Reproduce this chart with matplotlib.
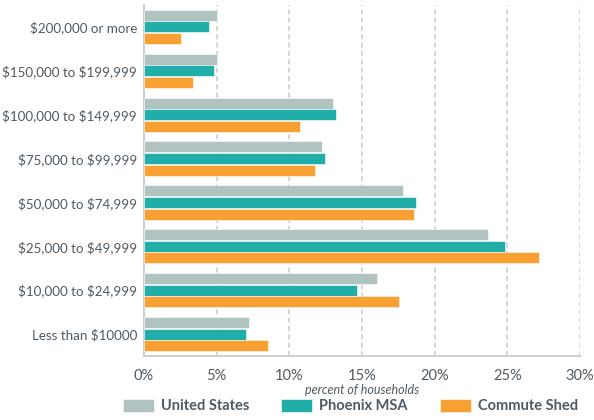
import numpy as np
import matplotlib.pyplot as plt
from matplotlib import font_manager

# Income brackets (top to bottom as shown)
categories = ['$200,000 or more', '$150,000 to $199,999', '$100,000 to $149,999',
              '$75,000 to $99,999', '$50,000 to $74,999', '$25,000 to $49,999',
              '$10,000 to $24,999', 'Less than $10000']

# percent of households
united_states = [5.0, 5.0, 13.0, 12.25, 17.8, 23.7, 16.0, 7.2]
phoenix_msa = [4.5, 4.8, 13.2, 12.45, 18.7, 24.85, 14.65, 7.0]
commute_shed = [2.55, 3.4, 10.7, 11.8, 18.6, 27.2, 17.55, 8.5]

series_names = ['United States', 'Phoenix MSA', 'Commute Shed']
colors = ['#B1C3C0', '#22AEA8', '#F8A031']
text_color = '#4F5A63'

plt.rcParams['font.family'] = ['Lato', 'DejaVu Sans']
plt.rcParams['text.parse_math'] = False

# narrow face for the long bracket labels, if there is one
names = {f.name for f in font_manager.fontManager.ttflist}
label_font, label_size = ('Liberation Sans Narrow', 11.5) if 'Liberation Sans Narrow' in names else ('Lato', 9.6)

fig = plt.figure(figsize=(5.94, 4.20), dpi=100)
ax = fig.add_axes([144 / 594, 64 / 420, 436 / 594, 351 / 420])

y = np.arange(len(categories))
h = 0.265
for i, (vals, name, c) in enumerate(zip([united_states, phoenix_msa, commute_shed],
                                        series_names, colors)):
    ax.barh(y + (i - 1) * h, vals, height=h * 0.95, color=c, label=name,
            edgecolor='white', linewidth=0.4, zorder=3)

ax.set_ylim(len(categories) - 0.5, -0.5)
ax.set_yticks(y)
ax.set_yticklabels(categories, fontsize=label_size, family=label_font, color=text_color)
ax.set_xlim(0, 30)
ax.set_xticks(np.arange(0, 31, 5))
ax.set_xticklabels([f'{v}%' for v in range(0, 31, 5)], fontsize=10.5, color=text_color)
ax.tick_params(length=0, pad=5)
ax.tick_params(axis='x', pad=9)

ax.grid(axis='x', linestyle=(0, (3, 2)), color='#CFCFCF', linewidth=1.2, zorder=0)
for s in ['top', 'right']:
    ax.spines[s].set_visible(False)
for s in ['left', 'bottom']:
    ax.spines[s].set_color('#D0D0D0')
    ax.spines[s].set_linewidth(1.5)

ax.set_xlabel('percent of households', fontsize=9, style='italic', color=text_color,
              labelpad=1)

leg = fig.legend(loc='lower center', bbox_to_anchor=(0.59, -0.015), ncol=3,
                 frameon=False, handlelength=2.1, handleheight=1.0, handletextpad=0.5,
                 columnspacing=2.2, prop={'weight': 'bold', 'size': 10.5})
for t in leg.get_texts():
    t.set_color(text_color)

fig.savefig('out.png', dpi=100)
